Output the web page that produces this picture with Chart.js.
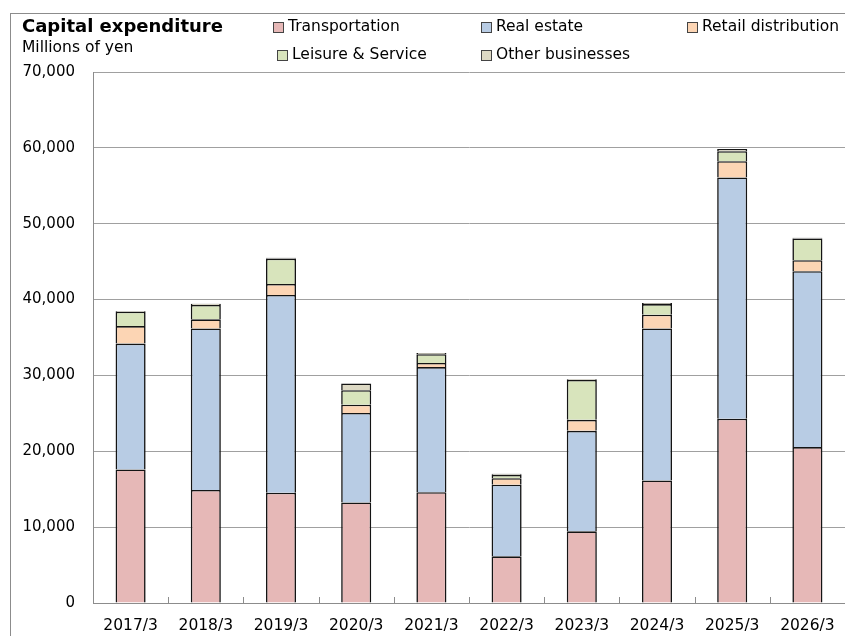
<!DOCTYPE html>
<html><head><meta charset="utf-8">
<script src="https://cdn.jsdelivr.net/npm/chart.js@4.4.1/dist/chart.umd.min.js"></script>
<style>
html,body{margin:0;padding:0;background:#fff;}
#wrap{position:relative;width:845px;height:636px;overflow:hidden;font-family:"DejaVu Sans",Verdana,sans-serif;color:#000;background:#fff;}
#c{position:absolute;left:0;top:0;}
.t{position:absolute;white-space:pre;line-height:1;}
.frame{position:absolute;left:10px;top:13px;width:900px;height:700px;border-left:1px solid #8c8c8c;border-top:1px solid #8c8c8c;}
.box{position:absolute;width:9px;height:9px;border:1px solid #444;}
</style></head>
<body>
<div id="wrap">
  <div class="frame"></div>
  <canvas id="c" width="845" height="636"></canvas>
  <div class="t" id="title" style="left:22px;top:17px;font-size:18px;font-weight:bold;">Capital expenditure</div>
  <div class="t" id="unit" style="left:22px;top:40px;font-size:15.5px;">Millions of yen</div>
  <div id="legend"></div>
</div>
<script>
const categories = ['2017/3','2018/3','2019/3','2020/3','2021/3','2022/3','2023/3','2024/3','2025/3','2026/3'];
const seriesNames = ['Transportation','Real estate','Retail distribution','Leisure & Service','Other businesses'];
const transportation = [17600,14900,14550,13250,14600,6150,9450,16150,24300,20550];
const realEstate     = [16600,21300,26050,11800,16500,9450,13250,20050,31800,23200];
const retail         = [2300,1200,1450,1100,550,850,1450,1800,2150,1450];
const leisure        = [1900,1900,3350,1900,1150,450,5250,1400,1300,2850];
const other          = [100,150,100,900,150,150,100,150,300,100];
const yTicks = [0,10000,20000,30000,40000,50000,60000,70000];

const seriesValues = [transportation, realEstate, retail, leisure, other];
const colors = ['#E6B8B7','#B8CCE4','#FCD5B4','#D8E4BC','#DDD9C4'];
const FONT = '"DejaVu Sans", Verdana, sans-serif';

// HTML legend built from series names
const legendPos = [[273,27],[481,27],[687,27],[277,55],[481,55]];
const leg = document.getElementById('legend');
seriesNames.forEach((n,i)=>{
  const [x,y] = legendPos[i];
  const b = document.createElement('div');
  b.className='box'; b.style.left=x+'px'; b.style.top=(y-5)+'px'; b.style.background=colors[i];
  leg.appendChild(b);
  const t = document.createElement('div');
  t.className='t'; t.textContent=n; t.style.left=(x+15)+'px'; t.style.top=(y-8)+'px'; t.style.fontSize='15.5px';
  leg.appendChild(t);
});

const innerTicks = {
  id:'innerTicks',
  afterDatasetsDraw(chart){
    const xs = chart.scales.x, ctx = chart.ctx, b = chart.chartArea.bottom;
    ctx.save();
    ctx.strokeStyle='#8c8c8c'; ctx.lineWidth=1;
    ctx.beginPath();
    for(let i=0;i<categories.length-1;i++){
      const px = Math.round((xs.getPixelForTick(i)+xs.getPixelForTick(i+1))/2)+0.5;
      ctx.moveTo(px,b); ctx.lineTo(px,b-6);
    }
    ctx.stroke();
    ctx.restore();
  }
};

new Chart(document.getElementById('c').getContext('2d'), {
  type:'bar',
  data:{
    labels:categories,
    datasets: seriesValues.map((d,i)=>({
      label:seriesNames[i], data:d, backgroundColor:colors[i],
      borderColor:'#141414', borderWidth:1.6,
      categoryPercentage:1, barPercentage:0.4
    }))
  },
  options:{
    responsive:false, animation:false, devicePixelRatio:1,
    layout:{padding:{top:72,left:0,right:0,bottom:0}},
    plugins:{legend:{display:false}, tooltip:{enabled:false}, title:{display:false}},
    scales:{
      x:{
        stacked:true, offset:true,
        grid:{display:false, drawTicks:false},
        border:{display:true, color:'#8c8c8c', width:1},
        ticks:{color:'#000', font:{family:FONT, size:15.5}, padding:14, maxRotation:0, autoSkip:false},
        afterFit(s){ s.height = 33; s.paddingRight = 0; s.paddingLeft = 0; }
      },
      y:{
        stacked:true, min:0, max:70000,
        afterBuildTicks(s){ s.ticks = yTicks.map(v=>({value:v})); },
        grid:{color:'#a0a0a0', drawTicks:false},
        border:{display:true, color:'#8c8c8c', width:1},
        ticks:{color:'#000', font:{family:FONT, size:15}, padding:18,
          callback:v=>Number(v).toLocaleString('en-US')},
        afterFit(s){ s.width = 93; }
      }
    }
  },
  plugins:[innerTicks]
});
</script>
</body></html>
